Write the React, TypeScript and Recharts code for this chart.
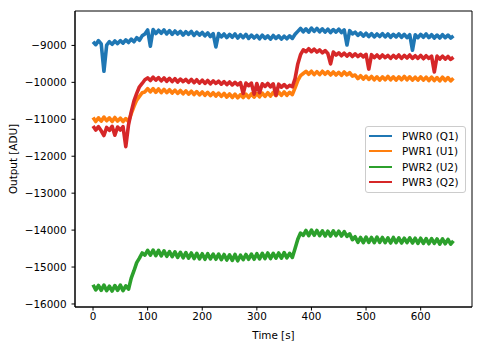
import React from 'react';
import { LineChart, Line, XAxis, YAxis, ReferenceArea } from 'recharts';

const times: number[] = Array.from({ length: 133 }, (_, i) => i * 5);

const seriesNames = ['PWR0 (Q1)', 'PWR1 (U1)', 'PWR2 (U2)', 'PWR3 (Q2)'];
const seriesColors = ['#1f77b4', '#ff7f0e', '#2ca02c', '#d62728'];

const pwr0: number[] = [
  -8900, -8980, -8870, -8960, -9700, -8990, -8900, -8970, -8880, -8950,
  -8870, -8940, -8850, -8920, -8830, -8900, -8790, -8860, -8740, -8690,
  -8580, -9020, -8570, -8680, -8590, -8670, -8580, -8690, -8600, -8700,
  -8610, -8690, -8620, -8720, -8630, -8700, -8620, -8730, -8640, -8720,
  -8650, -8740, -8660, -8760, -8680, -9040, -8680, -8770, -8690, -8790,
  -8700, -8780, -8690, -8800, -8710, -8790, -8700, -8810, -8720, -8800,
  -8730, -8820, -8720, -8810, -8740, -8830, -8730, -8810, -8740, -8830,
  -8750, -8820, -8740, -8810, -8700, -8620, -8540, -8630, -8550, -8640,
  -8530, -8620, -8540, -8630, -8550, -8640, -8560, -8650, -8570, -8640,
  -8560, -8650, -8580, -8990, -8600, -8690, -8640, -8730, -8660, -8750,
  -8670, -8760, -8680, -8770, -8690, -8760, -8680, -8770, -8690, -8780,
  -8700, -8770, -8690, -8780, -8700, -8790, -8710, -9130, -8710, -8790,
  -8700, -8780, -8690, -8790, -8710, -8800, -8720, -8800, -8710, -8790,
  -8720, -8800, -8740,
];

const pwr1: number[] = [
  -10950, -11060, -10960, -11050, -10940, -11040, -10960, -11060, -10950, -11050,
  -10970, -11060, -10980, -11060, -10850, -10650, -10480, -10380, -10280, -10260,
  -10170, -10260, -10170, -10270, -10180, -10280, -10190, -10280, -10200, -10290,
  -10210, -10300, -10220, -10310, -10230, -10320, -10240, -10330, -10250, -10340,
  -10260, -10350, -10270, -10360, -10280, -10370, -10290, -10380, -10300, -10400,
  -10310, -10410, -10320, -10420, -10330, -10410, -10320, -10410, -10310, -10400,
  -10300, -10390, -10290, -10380, -10280, -10370, -10270, -10360, -10260, -10350,
  -10260, -10350, -10270, -10330, -10150, -9950, -9820, -9760, -9700, -9780,
  -9700, -9790, -9710, -9790, -9700, -9780, -9710, -9800, -9720, -9800,
  -9730, -9810, -9720, -9800, -9740, -9830, -9800, -9900, -9820, -9910,
  -9830, -9920, -9840, -9930, -9850, -9940, -9850, -9930, -9840, -9930,
  -9850, -9940, -9850, -9930, -9840, -9930, -9850, -9940, -9860, -9940,
  -9850, -9940, -9860, -9950, -9860, -9950, -9870, -9960, -9860, -9950,
  -9870, -9960, -9890,
];

const pwr2: number[] = [
  -15480, -15620, -15500, -15630, -15490, -15640, -15520, -15650, -15500, -15630,
  -15490, -15640, -15510, -15600, -15300, -15100, -14880, -14760, -14620, -14680,
  -14550, -14680, -14540, -14690, -14550, -14700, -14560, -14710, -14580, -14720,
  -14590, -14740, -14600, -14750, -14610, -14760, -14620, -14770, -14630, -14780,
  -14640, -14790, -14640, -14780, -14650, -14790, -14650, -14800, -14660, -14810,
  -14670, -14820, -14660, -14830, -14680, -14800, -14660, -14790, -14650, -14790,
  -14640, -14780, -14630, -14770, -14620, -14770, -14630, -14760, -14620, -14760,
  -14610, -14750, -14630, -14740, -14500, -14250, -14080, -14140, -14010, -14150,
  -14000, -14140, -14010, -14150, -14020, -14160, -14030, -14160, -14020, -14150,
  -14030, -14160, -14040, -14170, -14100, -14260, -14180, -14330, -14200, -14340,
  -14190, -14330, -14200, -14340, -14190, -14330, -14200, -14340, -14210, -14350,
  -14200, -14340, -14210, -14350, -14220, -14340, -14210, -14350, -14220, -14360,
  -14220, -14360, -14230, -14370, -14230, -14360, -14240, -14380, -14240, -14370,
  -14250, -14380, -14290,
];

const pwr3: number[] = [
  -11180, -11290, -11200, -11310, -11440, -11220, -11300, -11190, -11430, -11210,
  -11290, -11200, -11740, -11150, -10800, -10500, -10300, -10120, -10030, -9930,
  -9880, -9950, -9860, -9940, -9870, -9960, -9880, -9970, -9890, -9980,
  -9900, -9990, -9910, -9980, -9920, -10000, -9920, -10010, -9930, -10020,
  -9940, -10030, -9950, -10040, -9960, -10030, -9970, -10050, -9980, -10060,
  -9990, -10070, -10000, -10070, -10010, -10300, -10020, -10090, -10020, -10320,
  -10030, -10280, -10040, -10110, -10030, -10120, -10040, -10350, -10050, -10130,
  -10060, -10140, -10080, -10120, -9900, -9500, -9250, -9120, -9170, -9090,
  -9170, -9100, -9180, -9120, -9200, -9140, -9220, -9500, -9180, -9260,
  -9200, -9280, -9210, -9290, -9220, -9300, -9230, -9300, -9240, -9310,
  -9240, -9640, -9250, -9330, -9260, -9340, -9260, -9330, -9270, -9350,
  -9270, -9340, -9260, -9350, -9270, -9340, -9260, -9350, -9280, -9350,
  -9270, -9360, -9280, -9350, -9290, -9720, -9290, -9370, -9290, -9370,
  -9300, -9380, -9320,
];

const xTicks = [0, 100, 200, 300, 400, 500, 600];
const yTicks = [-16000, -15000, -14000, -13000, -12000, -11000, -10000, -9000];
const xDomain: [number, number] = [-33, 694];
const yDomain: [number, number] = [-16082, -8068];

const data = times.map((t, i) => ({ t, p0: pwr0[i], p1: pwr1[i], p2: pwr2[i], p3: pwr3[i] }));
const keys = ['p0', 'p1', 'p2', 'p3'];

const FONT = 'DejaVu Sans, sans-serif';
const fmt = (v: number) => String(v).replace('-', '\u2212');

const LegendBox = () => (
  <div
    style={{
      position: 'absolute',
      left: 357,
      top: 118,
      border: '1px solid #cccccc',
      borderRadius: 3,
      background: 'rgba(255,255,255,0.8)',
      padding: '1px 0 2px 0',
      width: 101,
      fontFamily: FONT,
      fontSize: 10.4,
      color: '#000',
      boxSizing: 'border-box',
    }}
  >
    {seriesNames.map((n, i) => (
      <div key={n} style={{ display: 'flex', alignItems: 'center', height: 15.5 }}>
        <svg width={33} height={4} style={{ marginLeft: 3, display: 'block' }}>
          <line x1={0} y1={2} x2={23} y2={2} stroke={seriesColors[i]} strokeWidth={2} />
        </svg>
        <span style={{ whiteSpace: 'nowrap' }}>{n}</span>
      </div>
    ))}
  </div>
);

export default function App() {
  return (
    <div style={{ position: 'relative', width: 475, height: 339 }}>
      <LineChart
        width={475}
        height={339}
        data={data}
        margin={{ top: 3, right: 11, bottom: 0, left: 0 }}
        style={{ fontFamily: FONT }}
      >
        <XAxis
          dataKey="t"
          type="number"
          domain={xDomain}
          ticks={xTicks}
          allowDataOverflow
          height={40}
          tickSize={3.5}
          tickMargin={2}
          stroke="#000"
          tick={{ fill: '#000', fontSize: 10.4, fontFamily: FONT }}
          tickFormatter={fmt}
          label={{ value: 'Time [s]', position: 'insideBottom', offset: 8, fill: '#000', fontSize: 10.4, fontFamily: FONT }}
        />
        <YAxis
          type="number"
          domain={yDomain}
          ticks={yTicks}
          allowDataOverflow
          width={67}
          tickSize={3.5}
          tickMargin={5}
          stroke="#000"
          tick={{ fill: '#000', fontSize: 10.4, fontFamily: FONT }}
          tickFormatter={fmt}
          label={{
            value: 'Output [ADU]',
            angle: -90,
            position: 'insideLeft',
            offset: 5,
            fill: '#000',
            fontSize: 10.4,
            fontFamily: FONT,
            style: { textAnchor: 'middle' },
          }}
        />
        {keys.map((k, i) => (
          <Line
            key={k}
            dataKey={k}
            name={seriesNames[i]}
            stroke={seriesColors[i]}
            strokeWidth={3.6}
            strokeLinejoin="round"
            dot={false}
            activeDot={false}
            isAnimationActive={false}
            type="linear"
          />
        ))}
        <ReferenceArea
          x1={xDomain[0]}
          x2={xDomain[1]}
          y1={yDomain[0]}
          y2={yDomain[1]}
          fill="none"
          fillOpacity={0}
          stroke="#000"
          strokeWidth={1}
          ifOverflow="visible"
        />
      </LineChart>
      <LegendBox />
    </div>
  );
}
